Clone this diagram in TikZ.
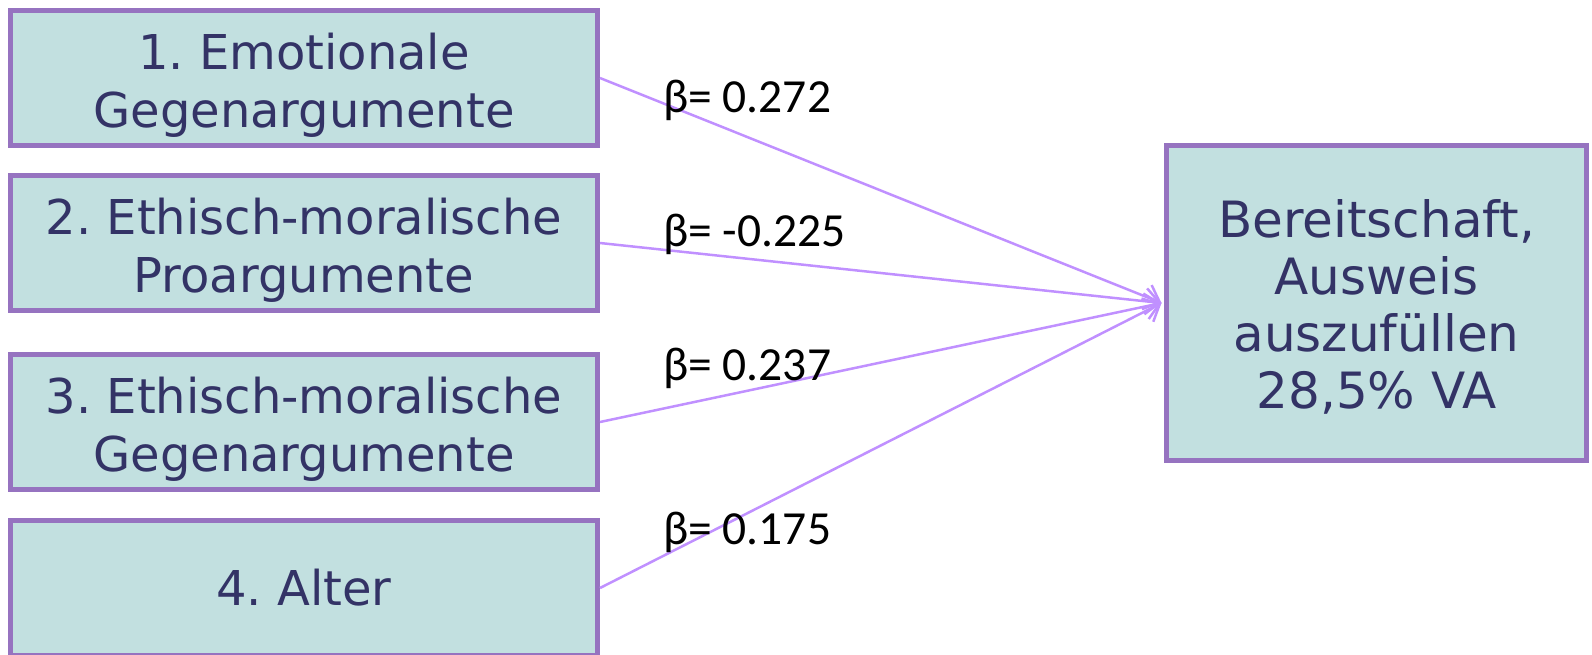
\documentclass[tikz,border=0pt]{standalone}
\usepackage{fontspec}
\setmainfont{DejaVu Sans}
\newfontfamily\labelfont{Carlito}
\usetikzlibrary{arrows.meta}
\definecolor{boxfill}{HTML}{C2E0E0}
\definecolor{boxdraw}{HTML}{9673C0}
\definecolor{boxtext}{HTML}{333366}
\definecolor{arrowcol}{HTML}{C090FF}
\newcommand{\topgap}[1]{\rule{0pt}{#1}}
\tikzset{
  factorbox/.style={draw=boxdraw, fill=boxfill, line width=5pt, text=boxtext,
    minimum width=587pt, minimum height=135pt, align=center, inner sep=0pt,
    font=\fontsize{48}{58}\selectfont\frenchspacing},
  targetbox/.style={draw=boxdraw, fill=boxfill, line width=5pt, text=boxtext,
    minimum width=420pt, minimum height=315pt, align=center, inner sep=0pt,
    font=\fontsize{50}{57}\selectfont\frenchspacing},
  betalabel/.style={anchor=base west, inner sep=0pt, text=black,
    font=\labelfont\fontsize{47.5}{54}\selectfont},
  effect/.style={draw=arrowcol, line width=2.5pt,
    -{Straight Barb[length=14pt,width=26pt,line width=2.5pt]}}
}
\begin{document}
\begin{tikzpicture}[x=1pt,y=-1pt]
\useasboundingbox (0,0) rectangle (1592,654);
\node[factorbox] (f1) at (304,78) {\topgap{50pt}1. Emotionale\\Gegenargumente};
\node[factorbox] (f2) at (304,243) {\topgap{50pt}2. Ethisch-moralische\\Proargumente};
\node[factorbox] (f3) at (304,422) {\topgap{50pt}3. Ethisch-moralische\\Gegenargumente};
\node[factorbox] (f4) at (304,588) {4. Alter};
\node[targetbox] (t) at (1376.5,303) {\topgap{46pt}Bereitschaft,\\Ausweis\\auszufüllen\\28,5\% VA};
\coordinate (tip) at ([xshift=-2.5pt]t.west);
\draw[effect] (f1.east) -- (tip);
\draw[effect] (f2.east) -- (tip);
\draw[effect] (f3.east) -- (tip);
\draw[effect] (f4.east) -- (tip);
\node[betalabel] (b1) at (663,112) {β= 0.272};
\node[betalabel] (b2) at (663,246) {β= -0.225};
\node[betalabel] (b3) at (663,380) {β= 0.237};
\node[betalabel] (b4) at (663,544) {β= 0.175};
\end{tikzpicture}
\end{document}
